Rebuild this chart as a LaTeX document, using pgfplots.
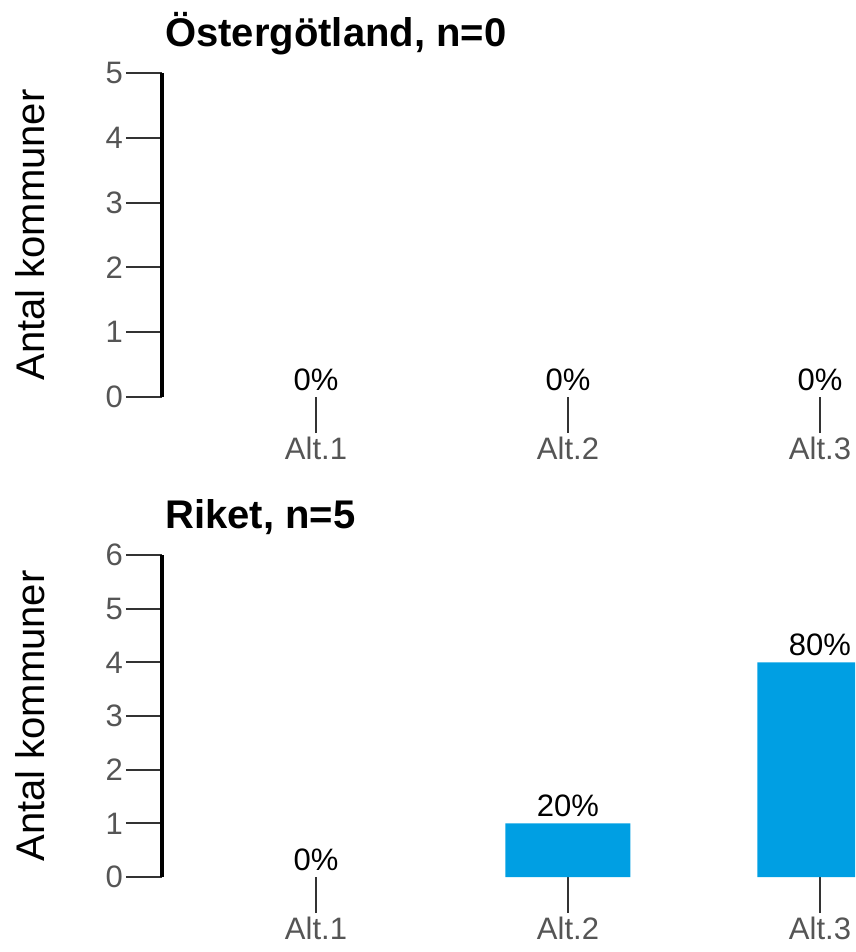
\documentclass[border=0pt]{standalone}
\usepackage{fontspec}
\setmainfont{Liberation Sans}
\usepackage{pgfplots}
\pgfplotsset{compat=1.18}
\definecolor{barblue}{HTML}{009FE3}
\definecolor{tickgrey}{HTML}{333333}
\definecolor{labelgrey}{HTML}{555555}
\pgfplotsset{
 panel/.style={
  scale only axis, width=693pt,
  xmin=-0.611, xmax=2.139, ymin=0,
  axis lines*=left,
  x axis line style={draw=none},
  y axis line style={line width=4pt, black, -},
  xtick={0,1,2}, xticklabels={Alt.1,Alt.2,Alt.3},
  tick align=outside,
  major tick length=36pt,
  every tick/.style={tickgrey, line width=2pt},
  tick label style={font=\fontsize{31}{37}\selectfont, text=labelgrey},
  /pgf/number format/assume math mode=true,
  yticklabel style={inner sep=3pt},
  xticklabel style={inner sep=4pt},
  ylabel={Antal kommuner},
  ylabel style={font=\fontsize{40}{48}\selectfont, at={(axis description cs:-0.1905,0.5)}, anchor=center},
  title style={font=\fontsize{40}{48}\selectfont\bfseries, at={(axis description cs:0,1)}, anchor=base west, yshift=21pt, xshift=3pt, inner sep=0pt},
  ybar, bar width=125pt, bar shift=0pt,
  nodes near coords, point meta=explicit symbolic,
  every node near coord/.append style={font=\fontsize{31}{37}\selectfont, text=black, anchor=base, yshift=7pt, inner sep=0pt},
 }
}
\begin{document}
\begin{tikzpicture}
\useasboundingbox (0,0) rectangle (855pt,-952pt);
\begin{axis}[panel, at={(162pt,-397pt)}, anchor=south west, height=324pt, ymax=5, ytick={0,1,2,3,4,5},
  title={Östergötland, n=0}]
\addplot[fill=none, draw=none] coordinates {(0,0) [0\%] (1,0) [0\%] (2,0) [0\%]};
\end{axis}
\begin{axis}[panel, at={(162pt,-877pt)}, anchor=south west, height=322pt, ymax=6, ytick={0,1,2,3,4,5,6},
  title={Riket, n=5}]
\addplot[fill=barblue, draw=none] coordinates {(1,1) [20\%] (2,4) [80\%]};
\addplot[fill=none, draw=none] coordinates {(0,0) [0\%]};
\end{axis}
\end{tikzpicture}
\end{document}
